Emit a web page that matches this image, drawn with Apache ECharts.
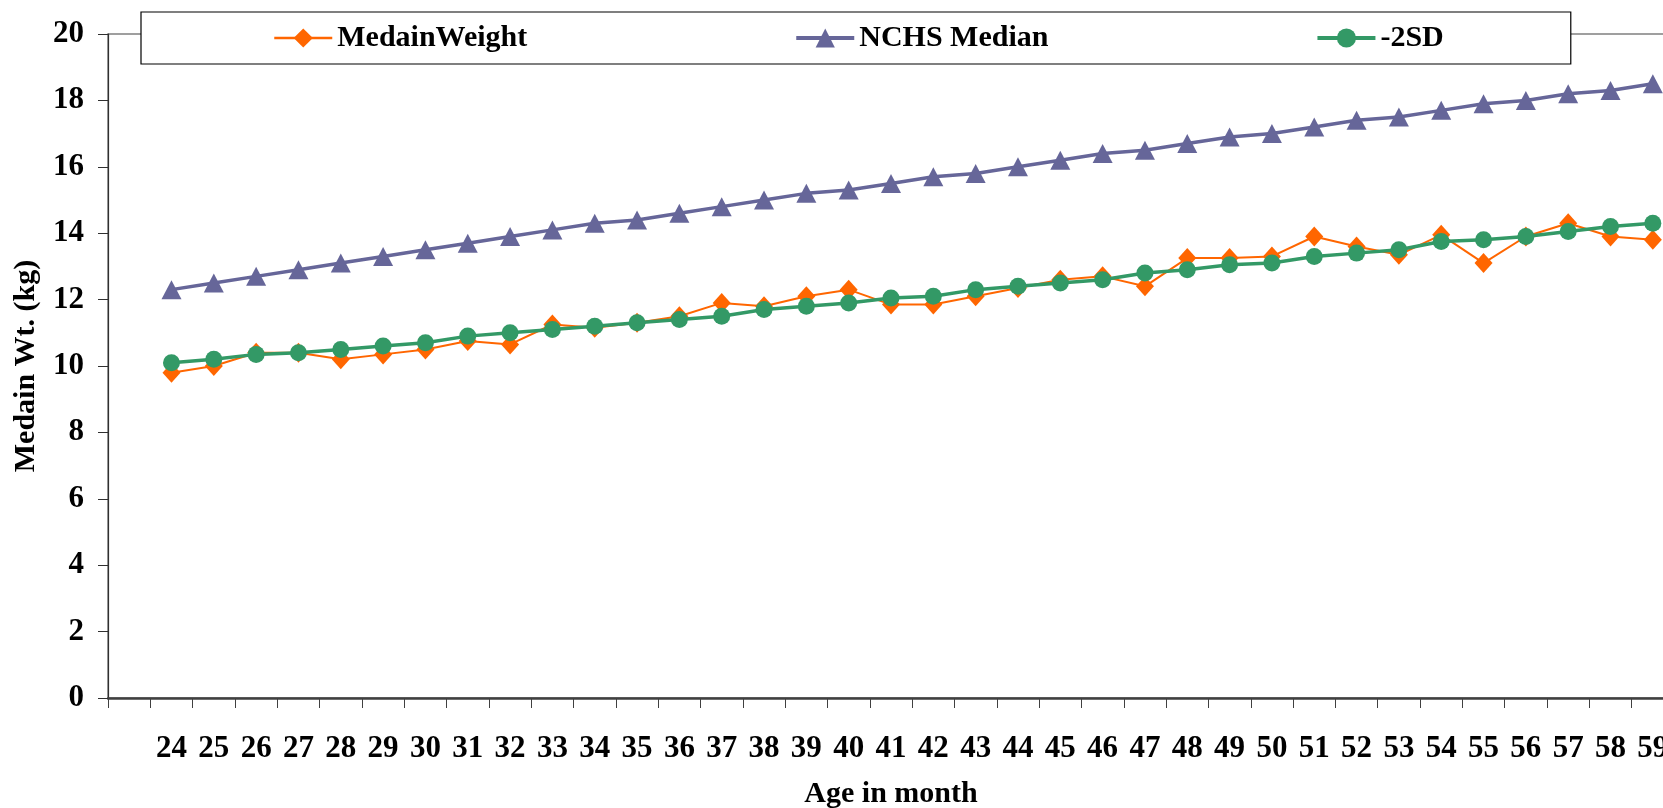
<!DOCTYPE html>
<html>
<head>
<meta charset="utf-8">
<script src="https://cdn.jsdelivr.net/npm/echarts@6/dist/echarts.min.js"></script>
<style>
  html, body { margin: 0; padding: 0; background: #ffffff; }
  #chart { width: 1663px; height: 808px; }
</style>
</head>
<body>
<div id="chart"></div>
<script>
// ---- data ----
const ages = ['24','25','26','27','28','29','30','31','32','33','34','35','36','37','38','39','40','41',
              '42','43','44','45','46','47','48','49','50','51','52','53','54','55','56','57','58','59'];
const medainWeight = [9.8, 10.0, 10.4, 10.4, 10.2, 10.35, 10.5, 10.75, 10.65, 11.25, 11.15, 11.3,
                      11.5, 11.9, 11.8, 12.1, 12.3, 11.85, 11.85, 12.1, 12.35, 12.6, 12.7, 12.4,
                      13.25, 13.25, 13.3, 13.9, 13.6, 13.35, 13.95, 13.1, 13.9, 14.3, 13.9, 13.8];
const nchsMedian = [12.3, 12.5, 12.7, 12.9, 13.1, 13.3, 13.5, 13.7, 13.9, 14.1, 14.3, 14.4,
                    14.6, 14.8, 15.0, 15.2, 15.3, 15.5, 15.7, 15.8, 16.0, 16.2, 16.4, 16.5,
                    16.7, 16.9, 17.0, 17.2, 17.4, 17.5, 17.7, 17.9, 18.0, 18.2, 18.3, 18.5];
const minus2SD = [10.1, 10.2, 10.35, 10.4, 10.5, 10.6, 10.7, 10.9, 11.0, 11.1, 11.2, 11.3,
                  11.4, 11.5, 11.7, 11.8, 11.9, 12.05, 12.1, 12.3, 12.4, 12.5, 12.6, 12.8,
                  12.9, 13.05, 13.1, 13.3, 13.4, 13.5, 13.75, 13.8, 13.9, 14.05, 14.2, 14.3];
const seriesNames = ['MedainWeight', 'NCHS Median', '-2SD'];
const yMin = 0, yMax = 20, yStep = 2;
const xTitle = 'Age in month';
const yTitle = 'Medain Wt. (kg)';

// the original category axis has one empty slot before 24
const categories = [''].concat(ages);
const pad = arr => [null].concat(arr);

const FONT = "'Liberation Serif', 'Times New Roman', serif";
const COLORS = ['#FF6600', '#666699', '#339966'];
const WIDTHS = [2, 3.5, 3.5];
const chart = echarts.init(document.getElementById('chart'), null, { renderer: 'canvas' });

chart.setOption({
  animation: false,
  backgroundColor: '#ffffff',
  textStyle: { fontFamily: FONT, fontWeight: 'bold', color: '#000' },
  grid: {
    left: 108, right: -11, top: 34, bottom: 110,
    show: true, borderColor: '#808080', borderWidth: 1.5,
    backgroundColor: 'transparent',
    outerBoundsMode: 'none', containLabel: false
  },
  legend: {
    left: 141, top: 12,
    padding: [11, 127, 11, 132],
    itemGap: 267,
    itemWidth: 58, itemHeight: 24,
    backgroundColor: '#ffffff',
    borderColor: '#000000', borderWidth: 1.2, borderRadius: 0,
    textStyle: { fontFamily: FONT, fontWeight: 'bold', fontSize: 30, color: '#000' },
    data: seriesNames.map((n, i) => ({ name: n, lineStyle: { width: WIDTHS[i] + 0.5, color: COLORS[i] } }))
  },
  xAxis: {
    type: 'category',
    data: categories,
    boundaryGap: true,
    name: xTitle,
    nameLocation: 'middle',
    nameGap: 81,
    nameTextStyle: { fontFamily: FONT, fontWeight: 'bold', fontSize: 30, color: '#000' },
    axisLine: { show: true, lineStyle: { color: '#404040', width: 2.5 } },
    axisTick: { show: true, interval: 0, length: 10, inside: false, lineStyle: { color: '#404040', width: 1 } },
    axisLabel: { interval: 0, margin: 35, fontFamily: FONT, fontWeight: 'bold', fontSize: 31, color: '#000' },
    splitLine: { show: false }
  },
  yAxis: {
    type: 'value',
    min: yMin, max: yMax, interval: yStep,
    name: yTitle,
    nameLocation: 'middle',
    nameGap: 67,
    nameRotate: 90,
    nameTextStyle: { fontFamily: FONT, fontWeight: 'bold', fontSize: 30, color: '#000' },
    axisLine: { show: true, lineStyle: { color: '#303030', width: 1.2 } },
    axisTick: { show: true, length: 10, inside: false, lineStyle: { color: '#303030', width: 1 } },
    axisLabel: { margin: 24, fontFamily: FONT, fontWeight: 'bold', fontSize: 31, color: '#000' },
    splitLine: { show: false }
  },
  series: [
    {
      name: seriesNames[0], type: 'line', data: pad(medainWeight),
      symbol: 'diamond', symbolSize: [18, 20], showSymbol: true,
      lineStyle: { color: COLORS[0], width: WIDTHS[0] },
      itemStyle: { color: COLORS[0] },
      z: 2
    },
    {
      name: seriesNames[1], type: 'line', data: pad(nchsMedian),
      symbol: 'triangle', symbolSize: [20, 19], showSymbol: true,
      lineStyle: { color: COLORS[1], width: WIDTHS[1] },
      itemStyle: { color: COLORS[1] },
      z: 3
    },
    {
      name: seriesNames[2], type: 'line', data: pad(minus2SD),
      symbol: 'circle', symbolSize: 17, showSymbol: true,
      lineStyle: { color: COLORS[2], width: WIDTHS[2] },
      itemStyle: { color: COLORS[2] },
      z: 4
    }
  ]
});
</script>
</body>
</html>
